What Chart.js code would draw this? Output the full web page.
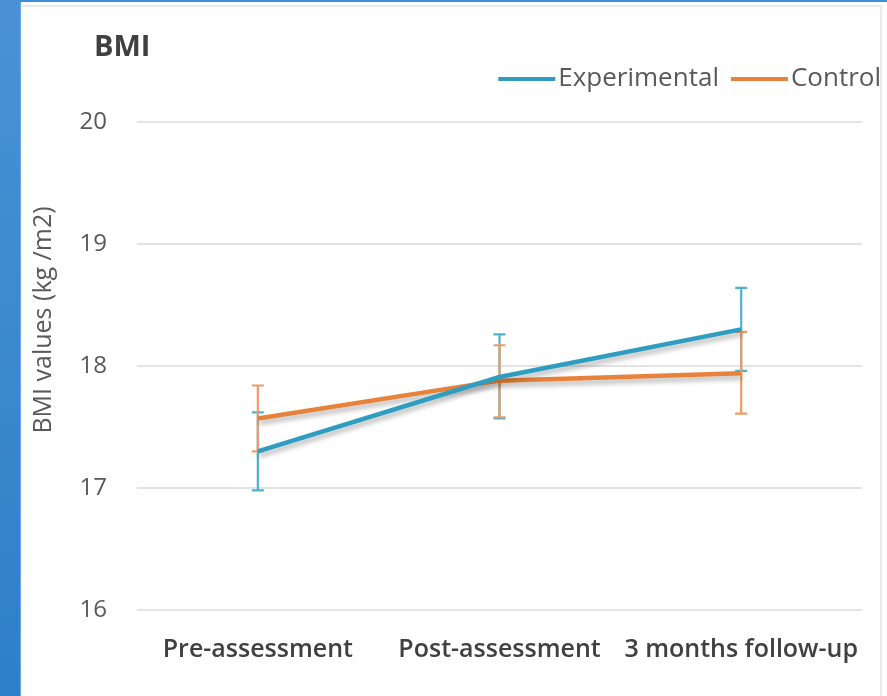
<!DOCTYPE html>
<html>
<head>
<meta charset="utf-8">
<script src="https://cdn.jsdelivr.net/npm/chart.js@4.4.1/dist/chart.umd.min.js"></script>
<style>
  html, body { margin: 0; padding: 0; background: #ffffff; }
  body { width: 887px; height: 696px; position: relative; overflow: hidden; font-family: "Open Sans", sans-serif; }
  #band { position: absolute; left: 0; top: 0; width: 20px; height: 696px;
          background: linear-gradient(#4a92d4, #2d80c8); border-right: 1px solid #6aa8e0; }
  #topline { position: absolute; left: 20px; top: 0; width: 867px; height: 2px; background: #3a8fd8; }
  #frame { position: absolute; left: 22px; top: 5px; width: 858px; height: 700px;
           border-top: 2px solid #e8e8e8; border-right: 2px solid #ececec; }
  #wrap { position: absolute; left: 21px; top: 0; width: 866px; height: 696px; }
</style>
</head>
<body>
<div id="band"></div>
<div id="topline"></div>
<div id="frame"></div>
<div id="wrap"><canvas id="c"></canvas></div>
<script>
// Time points and BMI means with error-bar limits per group
const categories = ['Pre-assessment', 'Post-assessment', '3 months follow-up'];
const experimentalMean = [17.30, 17.91, 18.30];
const experimentalLow  = [16.98, 17.57, 17.96];
const experimentalHigh = [17.62, 18.26, 18.64];
const controlMean = [17.57, 17.88, 17.94];
const controlLow  = [17.30, 17.58, 17.61];
const controlHigh = [17.84, 18.17, 18.28];
const yTicks = [16, 17, 18, 19, 20];
const yAxisTitle = 'BMI values (kg /m2)';

const FONT = '"Open Sans", sans-serif';

// Vertical error bars with caps, drawn under the lines
const errorBars = {
  id: 'errorBars',
  beforeDatasetsDraw(chart) {
    const ctx = chart.ctx;
    const y = chart.scales.y;
    chart.data.datasets.forEach((ds, i) => {
      const meta = chart.getDatasetMeta(i);
      ctx.save();
      ctx.strokeStyle = ds.errorColor;
      ctx.lineWidth = 2.2;
      meta.data.forEach((pt, j) => {
        const top = y.getPixelForValue(ds.high[j]);
        const bot = y.getPixelForValue(ds.low[j]);
        const x = pt.x;
        ctx.beginPath();
        ctx.moveTo(x, top); ctx.lineTo(x, bot);
        ctx.moveTo(x - 6, top); ctx.lineTo(x + 6, top);
        ctx.moveTo(x - 6, bot); ctx.lineTo(x + 6, bot);
        ctx.stroke();
      });
      ctx.restore();
    });
  }
};

// Soft drop shadow under each series line
const lineShadow = {
  id: 'lineShadow',
  beforeDatasetDraw(chart) {
    const ctx = chart.ctx;
    ctx.save();
    ctx.shadowColor = 'rgba(0,0,0,0.28)';
    ctx.shadowBlur = 5;
    ctx.shadowOffsetX = 1;
    ctx.shadowOffsetY = 4;
  },
  afterDatasetDraw(chart) {
    chart.ctx.restore();
  }
};

// Chart heading, rotated axis caption and the line-sample legend
const header = {
  id: 'header',
  afterDraw(chart) {
    const ctx = chart.ctx;
    ctx.save();
    ctx.fillStyle = '#404040';
    ctx.font = 'bold 29px ' + FONT;
    ctx.textBaseline = 'middle';
    ctx.textAlign = 'left';
    ctx.fillText('BMI', 73, 48);

    // y-axis caption
    ctx.save();
    ctx.translate(23, 320);
    ctx.rotate(-Math.PI / 2);
    ctx.textAlign = 'center';
    ctx.fillStyle = '#595959';
    ctx.font = '25px ' + FONT;
    ctx.fillText(yAxisTitle, 0, 0);
    ctx.restore();

    ctx.font = '26px ' + FONT;
    ctx.fillStyle = '#595959';
    const ly = 79;
    let x = chart.width - 6;
    const items = chart.data.datasets.map(d => ({ label: d.label, color: d.borderColor })).reverse();
    items.forEach(it => {
      const w = ctx.measureText(it.label).width;
      x -= w;
      ctx.fillText(it.label, x, ly);
      ctx.strokeStyle = it.color;
      ctx.lineWidth = 4;
      ctx.beginPath();
      ctx.moveTo(x - 60, ly);
      ctx.lineTo(x - 3, ly);
      ctx.stroke();
      x -= 60 + 12;
    });
    ctx.restore();
  }
};

new Chart(document.getElementById('c'), {
  type: 'line',
  data: {
    labels: categories,
    datasets: [
      { label: 'Experimental', data: experimentalMean, low: experimentalLow, high: experimentalHigh,
        borderColor: '#2f9dc0', errorColor: '#4fb0d0', borderWidth: 4.5, pointRadius: 0, tension: 0 },
      { label: 'Control', data: controlMean, low: controlLow, high: controlHigh,
        borderColor: '#e8823a', errorColor: '#ee9c66', borderWidth: 4.5, pointRadius: 0, tension: 0 }
    ]
  },
  options: {
    responsive: true,
    maintainAspectRatio: false,
    animation: false,
    layout: { padding: { top: 122, right: 24, bottom: 6, left: 0 } },
    plugins: { legend: { display: false }, title: { display: false }, tooltip: { enabled: false } },
    scales: {
      x: {
        offset: true,
        grid: { display: false, drawTicks: false },
        border: { display: false },
        ticks: { color: '#404040', padding: 25, font: { family: FONT, size: 25, weight: '600' }, maxRotation: 0, autoSkip: false }
      },
      y: {
        min: 16, max: 20,
        afterFit(scale) { scale.width = 116; },
        afterBuildTicks(scale) { scale.ticks = yTicks.map(v => ({ value: v })); },
        grid: { color: '#e3e3e3', lineWidth: 2, drawTicks: false },
        border: { display: false },
        ticks: { color: '#595959', padding: 30, font: { family: FONT, size: 24 } },
        title: { display: false }
      }
    }
  },
  plugins: [errorBars, lineShadow, header]
});
</script>
</body>
</html>
